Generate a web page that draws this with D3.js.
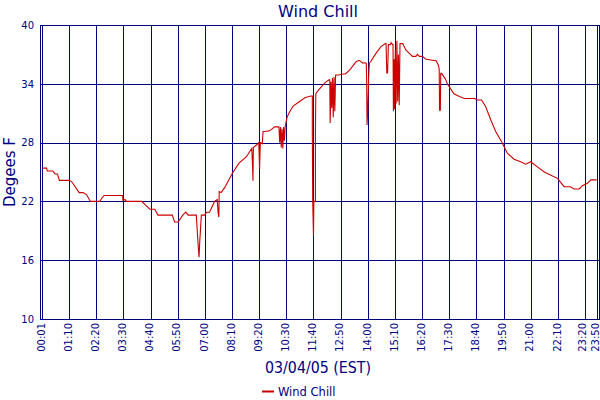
<!DOCTYPE html>
<html>
<head>
<meta charset="utf-8">
<script src="https://cdn.jsdelivr.net/npm/d3@7"></script>
<style>
  html, body { margin: 0; padding: 0; background: #fff; }
  svg { display: block; }
  text { font-family: "DejaVu Sans", Verdana, sans-serif; fill: #000080; }
</style>
</head>
<body>
<script>
// ---- data ----
const title = "Wind Chill";
const xTitle = "03/04/05 (EST)";
const yTitle = "Degees F";
const seriesName = "Wind Chill";
const xTickLabels = ["00:01","01:10","02:20","03:30","04:40","05:50","07:00","08:10","09:20","10:30","11:40","12:50","14:00","15:10","16:20","17:30","18:40","19:50","21:00","22:10","23:20","23:50"];
const yTickValues = [10, 16, 22, 28, 34, 40];

const times = [
 "00:01","00:12","00:14","00:28","00:34","00:40","00:45","01:10","01:17","01:36","01:46","01:55","02:05","02:29","02:34","02:40","03:28","03:29","03:34","03:38","04:17","04:28","04:38","04:51","04:59","05:36","05:42","05:51","06:03","06:11","06:17","06:38","06:42","06:45","06:47","06:51","06:59","07:05","07:12","07:25","07:32","07:34","07:36","07:37","07:42","07:51","08:11","08:28","08:47","09:01","09:03","09:04","09:05","09:13","09:19","09:21","09:23","09:28","09:30","09:47","10:00","10:11","10:13","10:15","10:17","10:19","10:21","10:23","10:25","10:27","10:32","10:38","10:47","11:04","11:19","11:34","11:37","11:37","11:38","11:40","11:41","11:45","11:45","11:46","11:54","12:09","12:20","12:22","12:23","12:25","12:27","12:29","12:31","12:33","12:35","12:37","12:45","12:55","13:02","13:13","13:30","13:38","13:47","13:51","13:56","13:57","13:58","14:00","14:02","14:04","14:08","14:21","14:34","14:45","14:47","14:49","14:51","14:53","14:58","15:00","15:04","15:05","15:06","15:08","15:09","15:11","15:13","15:15","15:17","15:19","15:21","15:23","15:30","15:38","15:47","15:55","16:04","16:08","16:13","16:21","16:30","16:56","17:02","17:04","17:05","17:07","17:08","17:10","17:19","17:21","17:25","17:30","17:38","17:43","17:56","18:09","18:35","18:43","18:53","19:04","19:17","19:30","19:46","20:00","20:17","20:34","20:47","21:00","21:18","21:35","21:56","22:09","22:26","22:42","22:52","23:05","23:13","23:26","23:35","23:47","23:50"
];
const values = [
 25.4,25.4,25.1,25.1,24.8,24.8,24.15,24.15,24.0,22.9,22.9,22.7,22.0,22.0,22.3,22.6,22.6,22.1,22.2,22.0,22.0,21.6,21.2,21.2,20.6,20.6,19.9,19.9,20.6,20.9,20.6,20.6,18.0,16.3,18.0,20.6,20.6,20.9,20.9,22.0,22.2,20.9,20.4,23.0,22.9,23.4,24.87,25.9,26.56,27.4,25.5,24.1,27.5,27.75,28.0,25.3,28.0,27.9,29.1,29.2,29.6,29.6,28.0,29.6,27.5,29.4,27.4,29.6,28.2,29.6,30.6,31.1,31.7,32.2,32.6,32.75,32.75,29.2,22.0,18.5,22.0,22.0,29.2,33.0,33.4,34.1,34.4,34.4,30.0,34.2,31.5,34.6,30.6,34.7,31.2,34.9,34.9,35.0,35.0,35.4,36.26,36.4,36.1,36.15,36.1,34.5,29.8,31.3,34.5,36.1,36.3,37.1,37.8,38.1,38.1,35.1,35.1,38.0,38.0,38.2,38.0,38.0,31.2,36.5,31.4,37.5,32.0,38.4,32.2,37.0,31.8,38.1,38.1,37.45,37.1,36.8,36.8,37.0,36.8,36.8,36.5,36.36,35.9,35.5,31.3,31.3,35.07,35.07,34.56,34.4,34.0,33.7,33.2,32.96,32.7,32.5,32.5,32.35,32.35,31.66,30.3,29.1,28.0,26.9,26.3,26.05,25.8,26.05,25.5,25.0,24.6,24.35,23.5,23.5,23.27,23.27,23.6,23.85,24.2,24.2,24.2
];

// ---- layout ----
const W = 600, H = 400;
const plot = { left: 40, top: 25, right: 599, bottom: 319 };
const navy = "#000080";
const red = "#cc0000";

const toMin = s => { const [h, m] = s.split(":").map(Number); return h * 60 + m; };
const data = times.map((t, i) => ({ m: toMin(t), v: values[i] }));

const x = d3.scaleLinear().domain([toMin("00:01"), toMin("23:50")]).range([42.3, 596.7]);
const y = d3.scaleLinear().domain([10, 40]).range([plot.bottom, plot.top]);

const svg = d3.select("body").append("svg").attr("width", W).attr("height", H);

// grid
const g = svg.append("g").attr("shape-rendering", "crispEdges");
g.selectAll("line.v").data(xTickLabels).enter().append("line")
  .attr("x1", d => Math.round(x(toMin(d))) + 0.5).attr("x2", d => Math.round(x(toMin(d))) + 0.5)
  .attr("y1", plot.top).attr("y2", plot.bottom)
  .attr("stroke", navy).attr("stroke-width", 1);
g.selectAll("line.h").data(yTickValues).enter().append("line")
  .attr("x1", plot.left).attr("x2", plot.right)
  .attr("y1", d => Math.round(y(d)) + 0.5).attr("y2", d => Math.round(y(d)) + 0.5)
  .attr("stroke", navy).attr("stroke-width", 1);
// frame
g.append("rect")
  .attr("x", plot.left + 0.5).attr("y", plot.top + 0.5)
  .attr("width", plot.right - plot.left).attr("height", plot.bottom - plot.top)
  .attr("fill", "none").attr("stroke", navy).attr("stroke-width", 1);

// line
const line = d3.line().x(d => x(d.m)).y(d => y(d.v));
svg.append("path").datum(data)
  .attr("d", line).attr("fill", "none")
  .attr("stroke", red).attr("stroke-width", 1.1);

// y axis labels
const yAxis = d3.axisLeft(y).tickValues(yTickValues).tickSize(0).tickPadding(6);
const ya = svg.append("g").attr("transform", `translate(${plot.left},0)`).call(yAxis);
ya.select(".domain").remove();
ya.selectAll("text").style("font-family", '"DejaVu Sans", sans-serif').style("font-size", "10px").attr("fill", navy);

// x axis labels (rotated), shifted left when crowded at the right edge
const xAxis = d3.axisBottom(x).tickValues(xTickLabels.map(toMin))
  .tickFormat((d, i) => xTickLabels[i]).tickSize(0);
const xa = svg.append("g").attr("transform", `translate(0,${plot.bottom})`).call(xAxis);
xa.select(".domain").remove();
const centers = xTickLabels.map(t => x(toMin(t)) - 0.8);
centers[centers.length - 1] = Math.min(centers[centers.length - 1], 595.3);
for (let i = centers.length - 2; i >= 0; i--) centers[i] = Math.min(centers[i], centers[i + 1] - 12.5);
xa.selectAll(".tick").attr("transform", (d, i) => `translate(${centers[i]},0)`);
xa.selectAll("text")
  .style("font-family", '"DejaVu Sans", sans-serif').style("font-size", "10px").attr("fill", navy)
  .attr("text-anchor", "end")
  .attr("transform", "rotate(-90)")
  .attr("x", -4).attr("y", 0).attr("dy", "0.35em");

// titles
svg.append("text").attr("x", 318).attr("y", 17).attr("text-anchor", "middle")
  .style("font-size", "16px").text(title);
svg.append("text").attr("x", 265).attr("y", 373)
  .attr("textLength", 106).attr("lengthAdjust", "spacingAndGlyphs")
  .style("font-size", "16px").text(xTitle);
svg.append("text").attr("transform", `translate(15,172) rotate(-90)`).attr("text-anchor", "middle")
  .style("font-size", "15px").text(yTitle);

// legend
svg.append("line").attr("x1", 262).attr("x2", 274).attr("y1", 391.5).attr("y2", 391.5)
  .attr("stroke", red).attr("stroke-width", 2);
svg.append("text").attr("x", 278).attr("y", 395.5).style("font-size", "11.5px").text(seriesName);
</script>
</body>
</html>
